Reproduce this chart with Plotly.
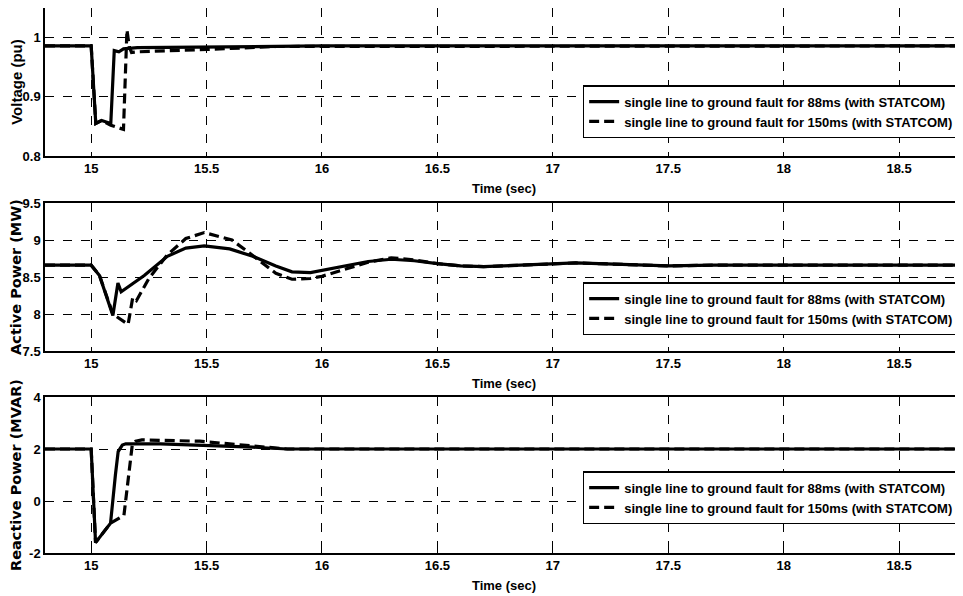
import plotly.graph_objects as go
from plotly.subplots import make_subplots

# ---- data ----
volt_88_t = [14.8, 15.0, 15.02, 15.045, 15.085, 15.1, 15.12, 15.14, 15.2, 15.5, 16.0, 18.8]
volt_88_v = [0.986, 0.986, 0.855, 0.860, 0.855, 0.978, 0.976, 0.981, 0.983, 0.984, 0.986, 0.986]
volt_150_t = [14.8, 15.0, 15.02, 15.045, 15.085, 15.14, 15.155, 15.165, 15.175, 15.2, 15.5, 15.8, 18.8]
volt_150_v = [0.986, 0.986, 0.855, 0.860, 0.852, 0.845, 1.013, 0.985, 0.975, 0.976, 0.980, 0.985, 0.986]

p_88_t = [14.8, 15.0, 15.036, 15.094, 15.116, 15.13, 15.23, 15.33, 15.41, 15.49, 15.6, 15.7, 15.8,
          15.87, 15.95, 16.0, 16.1, 16.2, 16.3, 16.4, 16.5, 16.6, 16.7, 16.8, 16.9, 17.0, 17.1,
          17.2, 17.3, 17.5, 17.7, 18.8]
p_88_v = [8.66, 8.66, 8.52, 7.98, 8.42, 8.30, 8.52, 8.78, 8.89, 8.92, 8.88, 8.78, 8.65,
          8.57, 8.56, 8.59, 8.64, 8.71, 8.74, 8.72, 8.68, 8.65, 8.64, 8.65, 8.66, 8.68, 8.69,
          8.68, 8.67, 8.65, 8.66, 8.66]
p_150_t = [14.8, 15.0, 15.036, 15.094, 15.16, 15.18, 15.196, 15.25, 15.33, 15.41, 15.49, 15.61,
           15.7, 15.8, 15.87, 15.95, 16.0, 16.1, 16.2, 16.3, 16.4, 16.5, 16.6, 16.7, 16.8, 16.9,
           17.0, 17.1, 17.2, 17.3, 17.5, 17.7, 18.8]
p_150_v = [8.66, 8.66, 8.52, 8.0, 7.86, 8.22, 8.18, 8.48, 8.80, 9.02, 9.10, 9.00,
           8.79, 8.55, 8.47, 8.48, 8.51, 8.60, 8.70, 8.76, 8.73, 8.68, 8.65, 8.64, 8.65, 8.66,
           8.68, 8.69, 8.68, 8.67, 8.65, 8.66, 8.66]

q_88_t = [14.8, 15.0, 15.019, 15.084, 15.105, 15.117, 15.135, 15.15, 15.3, 15.5, 15.7, 15.85, 18.8]
q_88_v = [2.0, 2.0, -1.6, -0.85, 1.0, 1.9, 2.15, 2.2, 2.2, 2.15, 2.07, 2.0, 2.0]
q_150_t = [14.8, 15.0, 15.019, 15.084, 15.142, 15.178, 15.193, 15.22, 15.47, 15.6, 15.75, 15.85, 18.8]
q_150_v = [2.0, 2.0, -1.6, -0.85, -0.55, 2.15, 2.3, 2.35, 2.3, 2.2, 2.06, 2.0, 2.0]

x_ticks = [15, 15.5, 16, 16.5, 17, 17.5, 18, 18.5]
x_ticktext = ["15", "15.5", "16", "16.5", "17", "17.5", "18", "18.5"]
name_88 = "single line to ground fault for 88ms (with STATCOM)"
name_150 = "single line to ground fault for 150ms (with STATCOM)"

SANS = "Liberation Sans, Arial, sans-serif"
WIDE = "DejaVu Sans, Liberation Sans, sans-serif"

fig = make_subplots(rows=3, cols=1, shared_xaxes=False, vertical_spacing=0.05)

panels = [
    (volt_88_t, volt_88_v, volt_150_t, volt_150_v, "legend"),
    (p_88_t, p_88_v, p_150_t, p_150_v, "legend2"),
    (q_88_t, q_88_v, q_150_t, q_150_v, "legend3"),
]
for i, (t1, v1, t2, v2, lg) in enumerate(panels, start=1):
    fig.add_trace(go.Scatter(x=t1, y=v1, mode="lines", name=name_88, legend=lg,
                             line=dict(color="black", width=3.2)), row=i, col=1)
    fig.add_trace(go.Scatter(x=t2, y=v2, mode="lines", name=name_150, legend=lg,
                             line=dict(color="black", width=3.2, dash="10px,5px")), row=i, col=1)

domains = [[0.7284, 1.0], [0.3706, 0.6422], [0.0, 0.2862]]
yranges = [[0.8, 1.05], [7.5, 9.5], [-2, 4]]
yticks = [[0.8, 0.9, 1.0], [7.5, 8, 8.5, 9, 9.5], [-2, 0, 2, 4]]
yticktext = [["0.8", "0.9", "1"], ["7.5", "8", "8.5", "9", "9.5"], ["-2", "0", "2", "4"]]
ytitles = ["Voltage (pu)", "Active Power (MW)", "Reactive Power (MVAR)"]
ytitle_fonts = [dict(family=SANS, size=15), dict(family=WIDE, size=14.5), dict(family=WIDE, size=14.5)]

for i in range(3):
    sfx = "" if i == 0 else str(i + 1)
    fig.layout["yaxis" + sfx].update(
        domain=domains[i], range=yranges[i], tickvals=yticks[i], ticktext=yticktext[i],
        showgrid=True, gridcolor="black", griddash="dash", gridwidth=0.8,
        showline=True, linecolor="black", linewidth=1.5, mirror=True,
        ticks="inside", ticklen=4, tickcolor="black", zeroline=False, automargin=False,
        tickfont=dict(family=SANS, size=13, color="black", weight="bold"),
        title=dict(text=ytitles[i], standoff=5,
                   font=dict(color="black", weight="bold", **ytitle_fonts[i])),
    )
    fig.layout["xaxis" + sfx].update(
        range=[14.8, 18.777], tickvals=x_ticks, ticktext=x_ticktext,
        showgrid=True, gridcolor="black", griddash="dash", gridwidth=0.8,
        showline=True, linecolor="black", linewidth=1.5, mirror=True,
        ticks="inside", ticklen=4, tickcolor="black", zeroline=False, automargin=False,
        tickfont=dict(family=SANS, size=13, color="black", weight="bold"),
        title=dict(text="Time (sec)", standoff=9,
                   font=dict(family=SANS, size=13, color="black", weight="bold")),
    )

leg_common = dict(x=0.586, xanchor="left", yanchor="top", bgcolor="white",
                  bordercolor="black", borderwidth=1.2,
                  font=dict(family=SANS, size=13, color="black", weight="bold"),
                  tracegroupgap=0, itemwidth=30)
fig.update_layout(
    legend=dict(y=0.858, **leg_common),
    legend2=dict(y=0.4965, **leg_common),
    legend3=dict(y=0.1497, **leg_common),
    width=955, height=588,
    margin=dict(l=37, r=0, t=0, b=43, autoexpand=False),
    plot_bgcolor="white", paper_bgcolor="white",
    showlegend=True,
)

fig.write_html("out.html")
